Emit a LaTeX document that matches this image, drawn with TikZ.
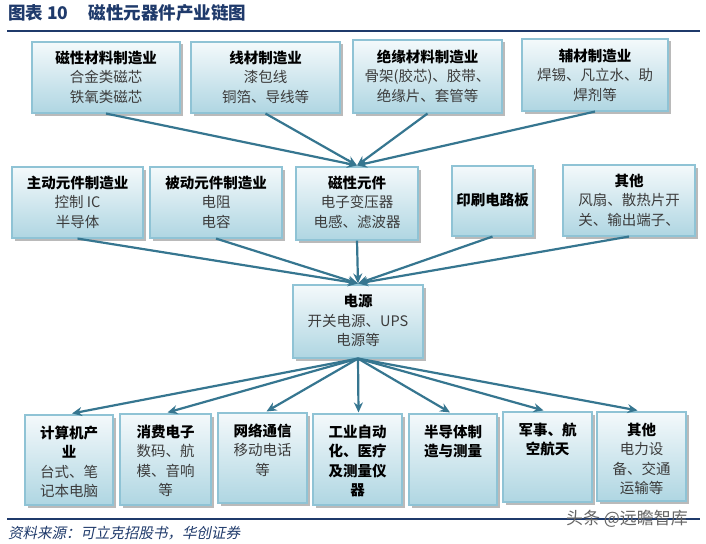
\documentclass[tikz,border=0pt]{standalone}
\usepackage{fontspec}
\setmainfont{Noto Sans CJK SC}
\newfontfamily\srcfont[FakeSlant=0.2]{Noto Sans CJK SC}
\usetikzlibrary{shadows,arrows.meta}
\definecolor{navy}{HTML}{1F3A6B}
\definecolor{boxborder}{HTML}{8FC3D5}
\definecolor{boxtop}{HTML}{F4F9FB}
\definecolor{boxbot}{HTML}{AFD6E2}
\definecolor{arrowc}{HTML}{367690}
\definecolor{txtgray}{HTML}{3C3C3C}
\tikzset{
  box/.style={rectangle, draw=boxborder, line width=1.1pt, top color=boxtop, bottom color=boxbot, inner sep=0pt,
    drop shadow={shadow xshift=2.5pt, shadow yshift=-2.5pt, fill=black!45, opacity=0.6}},
  txt/.style={inner sep=0pt, align=center, text=txtgray, font=\fontsize{14.5}{19.5}\selectfont},
  conn/.style={draw=arrowc, line width=2.2pt, -{Stealth[length=10pt,width=9pt]}},
}
\newcommand{\bx}[5]{\node[box, minimum width={(#4-#2)*1pt}, minimum height={(#5-#3)*1pt}] (#1) at ({(#2+#4)/2},{(#3+#5)/2}) {};}
\newcommand{\hd}[1]{{\bfseries\color{black}#1}}
\begin{document}
\begin{tikzpicture}[x=1pt,y=-1pt]
\useasboundingbox (0,0) rectangle (706,543);
\fill[white] (0,0) rectangle (706,543);
% title and rules
\node[anchor=west, inner sep=0pt, text=navy, font=\fontsize{17.5}{20}\selectfont\bfseries] (title) at (8,13) {图表 10\hspace{20pt}磁性元器件产业链图};
\coordinate (r1a) at (7,31); \coordinate (r1b) at (700,31);
\draw[navy, line width=2.5pt] (r1a) -- (r1b);
\coordinate (r2a) at (7,519); \coordinate (r2b) at (700,519);
\draw[navy, line width=2.5pt] (r2a) -- (r2b);
\node[anchor=west, inner sep=0pt, text=navy, font=\fontsize{14.5}{17}\selectfont\srcfont] (src) at (8,533) {资料来源：可立克招股书，华创证券};
\node[anchor=center, inner sep=0pt, text=black!60, font=\fontsize{17}{19}\selectfont] (wm) at (627,519) {头条 @远瞻智库};
% boxes
\bx{t1}{32}{42}{180}{113}
\bx{t2}{191}{42}{340}{113}
\bx{t3}{353}{40}{502}{113}
\bx{t4}{522}{39}{668}{111}
\bx{m1}{12}{167}{143}{238}
\bx{m2}{150}{167}{282}{238}
\bx{m3}{296}{167}{418}{240}
\bx{m4}{452}{166}{533}{236}
\bx{m5}{563}{165}{695}{236}
\bx{p}{293}{285}{423}{358}
\bx{b1}{25}{415}{113}{505}
\bx{b2}{120}{414}{211}{505}
\bx{b3}{218}{413}{307}{503}
\bx{b4}{313}{414}{402}{505}
\bx{b5}{409}{414}{497}{505}
\bx{b6}{503}{412}{592}{502}
\bx{b7}{597}{412}{686}{501}
% texts
\node[txt, anchor=north] (t1t) at ([yshift=-9pt]t1.north) {\hd{磁性材料制造业}\\合金类磁芯\\铁氧类磁芯};
\node[txt, anchor=north] (t2t) at ([yshift=-9pt]t2.north) {\hd{线材制造业}\\漆包线\\铜箔、导线等};
\node[txt, anchor=north] (t3t) at ([yshift=-10pt]t3.north) {\hd{绝缘材料制造业}\\骨架(胶芯)、胶带、\\绝缘片、套管等};
\node[txt, anchor=north] (t4t) at ([yshift=-10pt]t4.north) {\hd{辅材制造业}\\焊锡、凡立水、助\\焊剂等};
\node[txt, anchor=north] (m1t) at ([yshift=-9pt]m1.north) {\hd{主动元件制造业}\\控制 IC\\半导体};
\node[txt, anchor=north] (m2t) at ([yshift=-9pt]m2.north) {\hd{被动元件制造业}\\电阻\\电容};
\node[txt, anchor=north] (m3t) at ([yshift=-9pt]m3.north) {\hd{磁性元件}\\电子变压器\\电感、滤波器};
\node[txt] (m4t) at ([yshift=1pt]m4.center) {\hd{印刷电路板}};
\node[txt, anchor=north] (m5t) at ([yshift=-9pt]m5.north) {\hd{其他}\\风扇、散热片开\\关、输出端子、};
\node[txt, anchor=north] (pt) at ([yshift=-10pt]p.north) {\hd{电源}\\开关电源、UPS\\电源等};
\node[txt, anchor=north] (b1t) at ([yshift=-11pt]b1.north) {\hd{计算机产}\\\hd{业}\\台式、笔\\记本电脑};
\node[txt, anchor=north] (b2t) at ([yshift=-11pt]b2.north) {\hd{消费电子}\\数码、航\\模、音响\\等};
\node[txt, anchor=north] (b3t) at ([yshift=-11pt]b3.north) {\hd{网络通信}\\移动电话\\等};
\node[txt, anchor=north] (b4t) at ([yshift=-11pt]b4.north) {\hd{工业自动}\\\hd{化、医疗}\\\hd{及测量仪}\\\hd{器}};
\node[txt, anchor=north] (b5t) at ([yshift=-11pt]b5.north) {\hd{半导体制}\\\hd{造与测量}};
\node[txt, anchor=north] (b6t) at ([yshift=-11pt]b6.north) {\hd{军事、航}\\\hd{空航天}};
\node[txt, anchor=north] (b7t) at ([yshift=-11pt]b7.north) {\hd{其他}\\电力设\\备、交通\\运输等};
% connectors
\foreach \s in {t1,t2,t3,t4} \draw[conn] (\s.south) -- ([yshift=1pt]m3.north);
\foreach \s in {m1,m2,m3,m4,m5} \draw[conn] (\s.south) -- ([yshift=1pt]p.north);
\draw[conn] (p.south) -- ([xshift=3pt,yshift=1pt]b1.north);
\draw[conn] (p.south) -- ([xshift=2pt,yshift=1pt]b2.north);
\draw[conn] (p.south) -- ([xshift=4pt,yshift=1pt]b3.north);
\draw[conn] (p.south) -- ([xshift=1pt,yshift=1pt]b4.north);
\draw[conn] (p.south) -- ([xshift=-3pt,yshift=1pt]b5.north);
\draw[conn] (p.south) -- ([xshift=-4pt,yshift=1pt]b6.north);
\draw[conn] (p.south) -- ([xshift=-4pt,yshift=1pt]b7.north);
\end{tikzpicture}
\end{document}
